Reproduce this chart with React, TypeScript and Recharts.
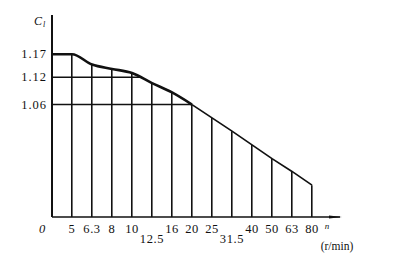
import React from "react";
import {
  ComposedChart,
  XAxis,
  YAxis,
  Bar,
  Line,
  ReferenceLine,
} from "recharts";

// rotational speed steps n (r/min), spaced evenly (geometric series)
const xLabels = ["0", "5", "6.3", "8", "10", "12.5", "16", "20", "25", "31.5", "40", "50", "63", "80"];
// coefficient C_l at each step
const cValues = [1.17, 1.17, 1.1475, 1.138, 1.129, 1.107, 1.0865, 1.06, 1.031, 1.002, 0.972, 0.942, 0.914, 0.884];
const yTicks = [1.06, 1.12, 1.17];
const guideLevels = [1.12, 1.06];
const splitIndex = 7;

const FONT = "Liberation Serif";

const data = xLabels.map((label, i) => ({
  x: i,
  label,
  head: i <= splitIndex ? cValues[i] : null,
  tail: i >= splitIndex ? cValues[i] : null,
  bar: i > 0 ? cValues[i] : null,
}));

// where the curve first drops to a level
const crossAt = (level: number) => {
  for (let i = 1; i < cValues.length; i++) {
    const a = cValues[i - 1];
    const b = cValues[i];
    if (a >= level && b <= level) {
      return a === b ? i : i - 1 + (a - level) / (a - b);
    }
  }
  return 0;
};

const lowered = ["12.5", "31.5"];

const XTick = (props: any) => {
  const { x, y, payload } = props;
  const label = xLabels[payload.value];
  const isZero = payload.value === 0;
  return (
    <text
      x={x + (isZero ? -9.5 : 0)}
      y={y + (lowered.includes(label) ? 24 : 14)}
      textAnchor="middle"
      fontFamily={FONT}
      fontSize={12.5}
      fontStyle={isZero ? "italic" : "normal"}
      letterSpacing={0.6}
      fill="#111"
    >
      {label}
    </text>
  );
};

const YTick = (props: any) => {
  const { x, y, payload } = props;
  return (
    <text
      x={x}
      y={y + 4}
      textAnchor="end"
      fontFamily={FONT}
      fontSize={12.5}
      letterSpacing={1}
      fill="#111"
    >
      {payload.value.toFixed(2)}
    </text>
  );
};

const XLabel = (props: any) => {
  const { x, y, width } = props.viewBox;
  const end = x + width;
  return (
    <g>
      <path
        d={`M ${end - 11} ${y - 1.6} L ${end + 2} ${y} L ${end - 11} ${y + 1.6} Z`}
        fill="#111"
      />
      <text x={end - 13} y={y + 12} textAnchor="middle" fontFamily={FONT} fontSize={9} fontStyle="italic" fill="#111">
        n
      </text>
      <text x={end - 3} y={y + 33} textAnchor="middle" fontFamily={FONT} fontSize={11.5} fill="#111">
        (r/min)
      </text>
    </g>
  );
};

const YLabel = (props: any) => {
  const { x, y } = props.viewBox;
  return (
    <text x={x + 26} y={y + 10} fontFamily={FONT} fontSize={12} fontStyle="italic" fill="#111">
      C
      <tspan fontSize={8} dx={1} dy={2}>
        l
      </tspan>
    </text>
  );
};

const App = () => {
  return (
    <div style={{ width: 386, height: 259 }}>
      <ComposedChart
        width={386}
        height={259}
        data={data}
        margin={{ top: 7, right: 54, left: 0, bottom: 20 }}
      >
        <XAxis
          type="number"
          dataKey="x"
          domain={[0, 14.4]}
          ticks={data.map((d) => d.x)}
          interval={0}
          tickLine={false}
          tickSize={0}
          tick={<XTick />}
          height={30}
          axisLine={{ stroke: "#111", strokeWidth: 1.5 }}
          label={<XLabel />}
          allowDataOverflow
        />
        <YAxis
          type="number"
          domain={[0.8144, 1.2558]}
          ticks={yTicks}
          interval={0}
          tickLine={false}
          tickSize={0}
          tickMargin={5}
          tick={<YTick />}
          width={44}
          axisLine={{ stroke: "#111", strokeWidth: 2 }}
          label={<YLabel />}
          allowDataOverflow
        />
        {guideLevels.map((level) => (
          <ReferenceLine
            key={level}
            segment={[
              { x: 0, y: level },
              { x: crossAt(level), y: level },
            ]}
            stroke="#111"
            strokeWidth={1.5}
          />
        ))}
        <Bar dataKey="bar" barSize={1.6} fill="#111" isAnimationActive={false} />
        <Line
          type="monotone"
          dataKey="head"
          stroke="#111"
          strokeWidth={2.6}
          dot={false}
          connectNulls={false}
          isAnimationActive={false}
        />
        <Line
          type="linear"
          dataKey="tail"
          stroke="#111"
          strokeWidth={1.7}
          dot={false}
          connectNulls={false}
          isAnimationActive={false}
        />
      </ComposedChart>
    </div>
  );
};

export default App;
